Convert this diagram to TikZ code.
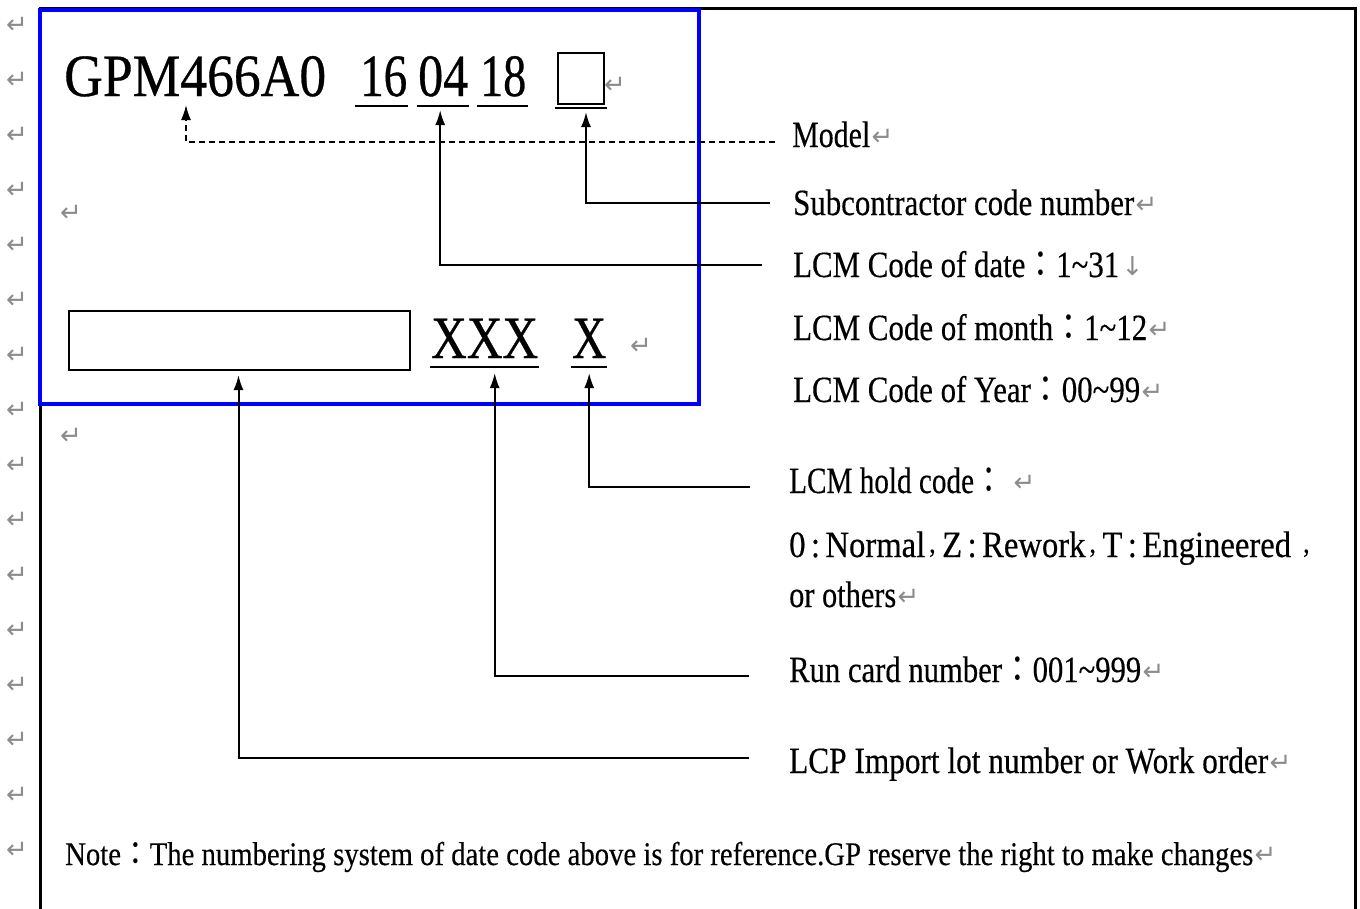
\documentclass[tikz,border=0pt]{standalone}
\usepackage{fontspec}
\setmainfont{Liberation Serif}[FakeBold=0.4]
\newfontfamily\bigf{Liberation Serif}[FakeBold=0.6]
\newfontfamily\symf{DejaVu Sans}
\newfontfamily\cjk{Noto Sans CJK TC}
\usetikzlibrary{arrows.meta,calc}
\newcommand{\fitw}[2]{\resizebox{#1}{\height}{#2}}
\newcommand{\cl}{{\cjk ：}}
\newcommand{\cm}{\hspace{0.12em}\raisebox{0.12em}{\scalebox{0.8}{,}}\hspace{0.2em}}
\newcommand{\tl}{\textasciitilde}
\begin{document}
\begin{tikzpicture}[x=1pt,y=-1pt,
  big/.style={font=\bigf\fontsize{60}{66}\selectfont,inner sep=0pt,anchor=base west},
  lab/.style={font=\fontsize{37}{44}\selectfont,inner sep=0pt,anchor=base west},
  notef/.style={font=\fontsize{33}{38}\selectfont,inner sep=0pt,anchor=base west},
  pmark/.style={font=\symf\fontsize{26}{28}\selectfont,text=black!45,inner sep=0pt},
  arr/.style={line width=2pt,-{Latex[length=15pt,width=10pt]}},
  dline/.style={line width=1.6pt,dash pattern=on 6pt off 4pt,-{Latex[length=15pt,width=10pt]}},
  ul/.style={line width=2pt},
  boxd/.style={draw,line width=2pt,inner sep=0pt,anchor=north west}]
\useasboundingbox (0,0) rectangle (1360,908);
% frames
\draw[line width=3pt] (40,909) -- (40,8) -- (1355,8) -- (1355,909);
\draw[line width=4pt,draw={rgb,255:red,0;green,0;blue,255}] (40,10) rectangle (699,404);
% paragraph marks in margin
\foreach \k in {0,...,15}{
  \node[pmark] (pm\k) at (17,{25+55*\k}) {↵};
}
\node[pmark] (pmA) at (71,213) {↵};
\node[pmark] (pmB) at (641,346) {↵};
\node[pmark] (pmC) at (71,436) {↵};
\node[pmark] (pmD) at (615,85) {↵};
% top code
\node[big] (gpm) at (64,96) {\fitw{262pt}{GPM466A0}};
\node[big] (d16) at (360,96) {\fitw{47pt}{16}};
\node[big] (d04) at (418,96) {\fitw{50pt}{04}};
\node[big] (d18) at (480,96) {\fitw{46pt}{18}};
\node[boxd,minimum width=46pt,minimum height=51pt] (sq) at (557,52) {};
\draw[ul] (355,106) -- (408,106);
\draw[ul] (417,106) -- (469,106);
\draw[ul] (477,106) -- (528,106);
\draw[ul] (555,108) -- (607,108);
% bottom code
\node[boxd,minimum width=341pt,minimum height=59pt] (lot) at (68,310) {};
\node[big] (xxx) at (431,358) {\fitw{107pt}{XXX}};
\node[big] (x1) at (572,358) {\fitw{34pt}{X}};
\draw[ul] (430,367) -- (539,367);
\draw[ul] (571,367) -- (607,367);
% labels
\node[lab] (lModel) at (792,147) {\fitw{78pt}{Model}};
\node[lab] (lSub) at (793,215) {\fitw{341pt}{Subcontractor code number}};
\node[lab] (lDate) at (793,277) {\fitw{326pt}{LCM Code of date\cl1\tl31}};
\node[lab] (lMonth) at (793,340) {\fitw{354pt}{LCM Code of month\cl1\tl12}};
\node[lab] (lYear) at (793,402) {\fitw{347pt}{LCM Code of Year\cl00\tl99}};
\node[lab] (lHold) at (789,493) {\fitw{214pt}{LCM hold code\cl}};
\node[lab] (lHoldA) at (789,557) {\fitw{527pt}{0\,:\,Normal\cm Z\,:\,Rework\cm T\,:\,Engineered \cm}};
\node[lab] (lHoldB) at (789,607) {\fitw{107pt}{or others}};
\node[lab] (lRun) at (789,682) {\fitw{352pt}{Run card number\cl001\tl999}};
\node[lab] (lLot) at (789,773) {\fitw{479pt}{LCP Import lot number or Work order}};
\node[notef] (note) at (65,865) {\fitw{1188pt}{Note\cl The numbering system of date code above is for reference.GP reserve the right to make changes}};
% marks after labels
\node[pmark,anchor=base west] (mModel) at ($(lModel.base east)+(1,-2)$) {↵};
\node[pmark,anchor=base west] (mSub) at ($(lSub.base east)+(1,-2)$) {↵};
\node[pmark,anchor=base west] (mDate) at ($(lDate.base east)+(2,-2)$) {↓};
\node[pmark,anchor=base west] (mMonth) at ($(lMonth.base east)+(1,-2)$) {↵};
\node[pmark,anchor=base west] (mYear) at ($(lYear.base east)+(1,-2)$) {↵};
\node[pmark,anchor=base west] (mHold) at ($(lHold.base east)+(10,-2)$) {↵};
\node[pmark,anchor=base west] (mHoldB) at ($(lHoldB.base east)+(1,-2)$) {↵};
\node[pmark,anchor=base west] (mRun) at ($(lRun.base east)+(1,-2)$) {↵};
\node[pmark,anchor=base west] (mLot) at ($(lLot.base east)+(1,-2)$) {↵};
\node[pmark,anchor=base west] (mNote) at ($(note.base east)+(1,-2)$) {↵};
% connector ends
\coordinate (eModel) at (775,142);
\coordinate (eSub) at (770,203);
\coordinate (eDate) at (762,265);
\coordinate (eHold) at (750,487);
\coordinate (eRun) at (749,676);
\coordinate (eLot) at (749,758);
\coordinate (tModel) at ($(gpm.base west)+(122,9)$);
\coordinate (tSub) at ($(sq.south)+(5,7)$);
\coordinate (tDate) at ($(d04.base)+(-3,14)$);
\coordinate (tHold) at ($(x1.base)+(0,15)$);
\coordinate (tRun) at ($(xxx.base)+(10,15)$);
\coordinate (tLot) at ($(lot.south)+(-1,4)$);
% connectors
\draw[dline] (eModel) -| (tModel);
\draw[arr] (eSub) -| (tSub);
\draw[arr] (eDate) -| (tDate);
\draw[arr] (eHold) -| (tHold);
\draw[arr] (eRun) -| (tRun);
\draw[arr] (eLot) -| (tLot);
\end{tikzpicture}
\end{document}
